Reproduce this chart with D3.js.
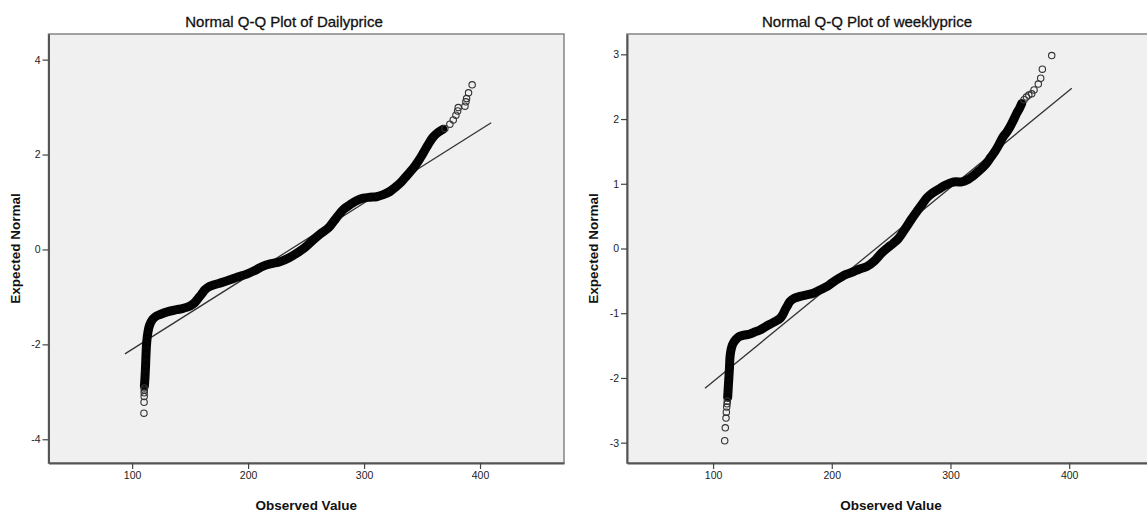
<!DOCTYPE html>
<html>
<head>
<meta charset="utf-8">
<script src="https://cdn.jsdelivr.net/npm/d3@7"></script>
<style>
  body { margin: 0; background: #fff; }
  svg { display: block; font-family: "Liberation Sans", Arial, sans-serif; }
  .title { font-size: 15px; fill: #111; stroke: #111; stroke-width: 0.3; }
  .axis-title { font-size: 13.5px; font-weight: bold; fill: #111; }
  .axis text { font-size: 10.5px; fill: #222; font-family: "Liberation Sans", Arial, sans-serif; }
  .axis line { stroke: #444; stroke-width: 1.2; }
  .axis path { stroke: #555; stroke-width: 2; }
</style>
</head>
<body>
<svg id="chart" width="1147" height="513"></svg>
<script>
// ---- Dailyprice: dense part (observed, expected)
const dailyBandObs = [110.6, 111.1, 111.6, 112, 112.6, 113.6, 115, 117.5, 120.5, 124, 131, 138.4, 144, 149.9, 154, 157, 160, 162.8, 166, 170, 177, 184.4, 191, 198.8, 206, 213.1, 220, 227.5, 235, 241.9, 249, 256.2, 263, 269.5, 274, 279.2, 283, 287.8, 293, 299.3, 305, 310.8, 316, 322.3, 327, 332.4, 337, 342.4, 347, 351, 355, 359.6, 364, 368];
const dailyBandExp = [-2.88, -2.7, -2.45, -2.2, -1.95, -1.75, -1.6, -1.48, -1.41, -1.37, -1.31, -1.27, -1.24, -1.19, -1.12, -1.03, -0.94, -0.85, -0.79, -0.75, -0.7, -0.64, -0.58, -0.52, -0.44, -0.35, -0.3, -0.26, -0.18, -0.08, 0.04, 0.2, 0.34, 0.46, 0.6, 0.76, 0.86, 0.94, 1.02, 1.08, 1.1, 1.11, 1.15, 1.22, 1.31, 1.43, 1.56, 1.71, 1.87, 2.03, 2.2, 2.37, 2.47, 2.53];
// ---- Dailyprice: single circles in the tails
const dailyTailObs = [110.2, 110.3, 110.4, 110.4, 110.5, 110.5, 369.7, 374, 376.9, 379.2, 380.7, 381.2, 387, 387.8, 388.4, 390.1, 393.2];
const dailyTailExp = [-3.45, -3.22, -3.1, -3.02, -2.96, -2.92, 2.55, 2.64, 2.73, 2.83, 2.92, 2.99, 3.02, 3.11, 3.18, 3.3, 3.47];
const dailyLineObs = [93.8, 409.6];
const dailyLineExp = [-2.2, 2.67];

// ---- weeklyprice: dense part
const weeklyBandObs = [112.3, 113.2, 113.8, 114.3, 115.2, 116.5, 119, 122.1, 126, 131.1, 135, 139.5, 144, 148, 152, 156.4, 158.8, 160.6, 162.8, 164.8, 168.5, 173.2, 178, 184.5, 190, 195.7, 201, 207, 212, 218.1, 223, 229.4, 236, 242, 247, 251.8, 256, 263.1, 267, 271.6, 276, 280, 285, 291.2, 296, 301.1, 305, 309.5, 315.1, 319, 323.5, 327, 330.5, 334, 337.5, 341, 344.5, 347.5, 350.2, 353, 355.8, 358, 360];
const weeklyBandExp = [-2.3, -2.03, -1.85, -1.67, -1.56, -1.48, -1.41, -1.36, -1.34, -1.32, -1.29, -1.26, -1.21, -1.17, -1.13, -1.08, -1.02, -0.95, -0.88, -0.82, -0.77, -0.74, -0.72, -0.69, -0.64, -0.59, -0.52, -0.45, -0.4, -0.36, -0.32, -0.28, -0.19, -0.07, 0.01, 0.08, 0.15, 0.34, 0.45, 0.57, 0.68, 0.78, 0.86, 0.93, 0.98, 1.02, 1.03, 1.03, 1.07, 1.12, 1.19, 1.25, 1.32, 1.41, 1.5, 1.61, 1.73, 1.8, 1.88, 1.98, 2.09, 2.16, 2.24];
const weeklyTailObs = [109.8, 110.3, 110.9, 111.2, 111.5, 111.8, 112, 362, 364, 366, 368.4, 370.4, 374, 376, 377.4, 385.3];
const weeklyTailExp = [-2.97, -2.77, -2.62, -2.53, -2.45, -2.4, -2.36, 2.3, 2.34, 2.37, 2.39, 2.45, 2.54, 2.63, 2.77, 2.98];
const weeklyLineObs = [93.2, 402.2];
const weeklyLineExp = [-2.16, 2.475];

const xTicks = [100, 200, 300, 400];
const dailyYTicks = [-4, -2, 0, 2, 4];
const weeklyYTicks = [-3, -2, -1, 0, 1, 2, 3];

const svg = d3.select("#chart");
// plain hyphen for negatives, like the SPSS output
const fmt = d => String(d);

function drawPanel(p) {
  let x = d3.scaleLinear().domain(p.xDomain).range([p.left, p.right]);
  let y = d3.scaleLinear().domain(p.yDomain).range([p.bottom, p.top]);
  let g = svg.append("g");

  // plot background + frame
  g.append("rect")
    .attr("x", p.left)
    .attr("y", p.top)
    .attr("width", p.right - p.left)
    .attr("height", p.bottom - p.top)
    .attr("fill", "#f0f0f0")
    .attr("stroke", "#858585")
    .attr("stroke-width", 1.5);

  g.append("g")
    .attr("class", "axis")
    .attr("transform", "translate(0," + p.bottom + ")")
    .call(d3.axisBottom(x).tickValues(xTicks).tickFormat(fmt).tickSize(6).tickSizeOuter(0).tickPadding(3));

  g.append("g")
    .attr("class", "axis")
    .attr("transform", "translate(" + p.left + ",0)")
    .call(d3.axisLeft(y).tickValues(p.yTicks).tickFormat(fmt).tickSize(6).tickSizeOuter(0).tickPadding(2));

  // reference line
  let line = d3.line().x(d => x(d[0])).y(d => y(d[1]));
  g.append("path")
    .datum(p.lineObs.map((v, i) => [v, p.lineExp[i]]))
    .attr("d", line)
    .attr("fill", "none")
    .attr("stroke", "#333")
    .attr("stroke-width", 1.3);

  // dense part of the points, drawn as a thick band
  let band = p.bandObs.map((v, i) => [v, p.bandExp[i]]);
  g.append("path")
    .datum(band)
    .attr("d", line.curve(d3.curveCatmullRom))
    .attr("fill", "none")
    .attr("stroke", "#050505")
    .attr("stroke-width", 9)
    .attr("stroke-linecap", "round")
    .attr("stroke-linejoin", "round");

  g.selectAll(".band-dot")
    .data(band)
    .enter()
    .append("circle")
    .attr("class", "band-dot")
    .attr("cx", d => x(d[0]))
    .attr("cy", d => y(d[1]))
    .attr("r", 3.2)
    .attr("fill", "none")
    .attr("stroke", "#000")
    .attr("stroke-width", 1.1);

  let tails = p.tailObs.map((v, i) => [v, p.tailExp[i]]);
  g.selectAll(".dot")
    .data(tails)
    .enter()
    .append("circle")
    .attr("class", "dot")
    .attr("cx", d => x(d[0]))
    .attr("cy", d => y(d[1]))
    .attr("r", 3.2)
    .attr("fill", "none")
    .attr("stroke", "#333")
    .attr("stroke-width", 1.1);

  // titles
  svg.append("text")
    .attr("class", "title")
    .attr("x", p.titleX)
    .attr("y", 27)
    .attr("text-anchor", "middle")
    .text(p.title);

  svg.append("text")
    .attr("class", "axis-title")
    .attr("x", (p.left + p.right) / 2)
    .attr("y", 510)
    .attr("text-anchor", "middle")
    .text("Observed Value");

  svg.append("text")
    .attr("class", "axis-title")
    .attr("transform", "translate(" + (p.left - 29) + "," + (p.top + p.bottom) / 2 + ") rotate(-90)")
    .attr("text-anchor", "middle")
    .text("Expected Normal");
}

drawPanel({
  left: 48.5, right: 564, top: 34, bottom: 463,
  xDomain: [27.9, 472.4], yDomain: [-4.5, 4.54], yTicks: dailyYTicks,
  bandObs: dailyBandObs, bandExp: dailyBandExp,
  tailObs: dailyTailObs, tailExp: dailyTailExp,
  lineObs: dailyLineObs, lineExp: dailyLineExp,
  title: "Normal Q-Q Plot of Dailyprice", titleX: 284
});

drawPanel({
  left: 627, right: 1155, top: 34, bottom: 463,
  xDomain: [27.5, 472.3], yDomain: [-3.314, 3.314], yTicks: weeklyYTicks,
  bandObs: weeklyBandObs, bandExp: weeklyBandExp,
  tailObs: weeklyTailObs, tailExp: weeklyTailExp,
  lineObs: weeklyLineObs, lineExp: weeklyLineExp,
  title: "Normal Q-Q Plot of weeklyprice", titleX: 867
});
</script>
</body>
</html>
